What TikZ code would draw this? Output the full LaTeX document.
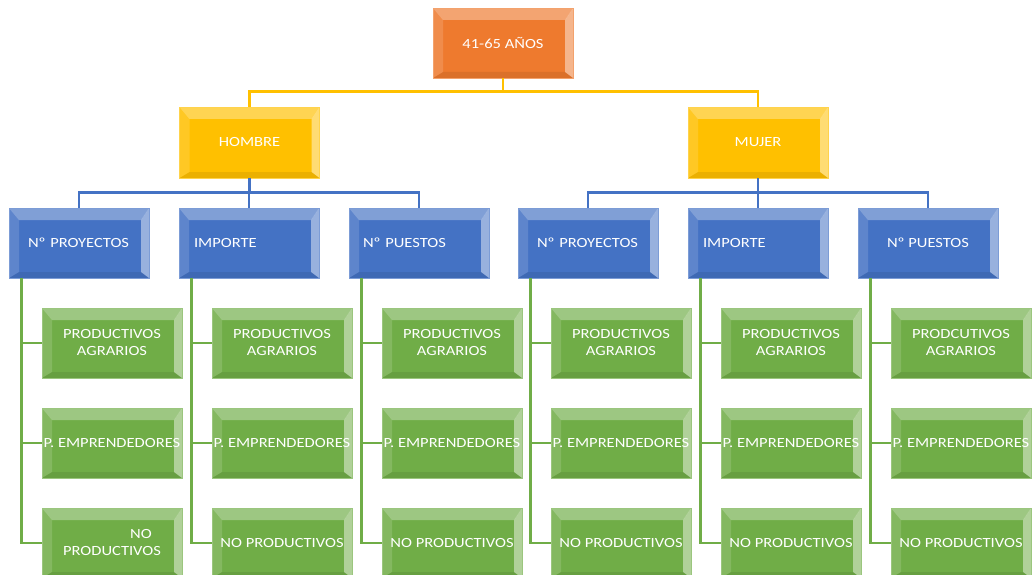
\documentclass[tikz,border=0pt]{standalone}
\usepackage{fontspec}
\setmainfont{Carlito}[FakeStretch=1.18]
\definecolor{orng}{HTML}{EE7A2E}
\definecolor{yel}{HTML}{FFC000}
\definecolor{blu}{HTML}{4472C4}
\definecolor{grn}{HTML}{70AD47}
\tikzset{
  bev/.style={path picture={
    \fill[white,opacity=.32] (path picture bounding box.north west) -- (path picture bounding box.north east)
       -- ([xshift=-8pt,yshift=-12pt]path picture bounding box.north east)
       -- ([xshift=10pt,yshift=-12pt]path picture bounding box.north west) -- cycle;
    \fill[white,opacity=.14] (path picture bounding box.north west) -- ([xshift=10pt,yshift=-12pt]path picture bounding box.north west)
       -- ([xshift=10pt,yshift=6pt]path picture bounding box.south west) -- (path picture bounding box.south west) -- cycle;
    \fill[white,opacity=.45] (path picture bounding box.north east) -- ([xshift=-8pt,yshift=-12pt]path picture bounding box.north east)
       -- ([xshift=-8pt,yshift=6pt]path picture bounding box.south east) -- (path picture bounding box.south east) -- cycle;
    \fill[black,opacity=.08] (path picture bounding box.south west) -- ([xshift=10pt,yshift=6pt]path picture bounding box.south west)
       -- ([xshift=-8pt,yshift=6pt]path picture bounding box.south east) -- (path picture bounding box.south east) -- cycle;
  }},
  box/.style={minimum width=140pt, minimum height=70pt, inner sep=0pt, text=white,
    font=\fontsize{14}{17}\selectfont, align=center, fill=#1, draw=#1!70!white, line width=.5pt, bev},
  conn/.style={draw=#1, line width=2.6pt},
}
\begin{document}
\begin{tikzpicture}[x=1pt,y=-1pt]
\useasboundingbox (0,0) rectangle (1036,575);
\clip (0,0) rectangle (1036,575);
\node[box=orng] (top) at (503,43) {41-65 AÑOS};
\node[box=yel, minimum height=71pt] (h) at (249.5,142.5) {HOMBRE};
\node[box=yel, minimum height=71pt] (m) at (758,142.5) {MUJER};
% blue level
\node[box=blu, align=left, inner xsep=19pt, text width=102pt] (b1) at (79,243) {\mbox{Nº PROYECTOS}};
\node[box=blu, align=left, inner xsep=15pt, text width=110pt] (b2) at (249,243) {IMPORTE};
\node[box=blu, align=left, inner xsep=14pt, text width=112pt] (b3) at (419,243) {\mbox{Nº PUESTOS}};
\node[box=blu, align=left, inner xsep=19pt, text width=102pt] (b4) at (588,243) {\mbox{Nº PROYECTOS}};
\node[box=blu, align=left, inner xsep=15pt, text width=110pt] (b5) at (758,243) {IMPORTE};
\node[box=blu] (b6) at (928,243) {Nº PUESTOS};
% green level
\node[box=grn] (g11) at (112,343) {PRODUCTIVOS\\AGRARIOS};
\node[box=grn] (g12) at (112,443) {P. EMPRENDEDORES};
\node[box=grn] (g13) at (112,543) {\hspace*{58pt}NO\\PRODUCTIVOS};
\node[box=grn] (g21) at (282,343) {PRODUCTIVOS\\AGRARIOS};
\node[box=grn] (g22) at (282,443) {P. EMPRENDEDORES};
\node[box=grn] (g23) at (282,543) {NO PRODUCTIVOS};
\node[box=grn] (g31) at (452,343) {PRODUCTIVOS\\AGRARIOS};
\node[box=grn] (g32) at (452,443) {P. EMPRENDEDORES};
\node[box=grn] (g33) at (452,543) {NO PRODUCTIVOS};
\node[box=grn] (g41) at (621,343) {PRODUCTIVOS\\AGRARIOS};
\node[box=grn] (g42) at (621,443) {P. EMPRENDEDORES};
\node[box=grn] (g43) at (621,543) {NO PRODUCTIVOS};
\node[box=grn] (g51) at (791,343) {PRODUCTIVOS\\AGRARIOS};
\node[box=grn] (g52) at (791,443) {P. EMPRENDEDORES};
\node[box=grn] (g53) at (791,543) {NO PRODUCTIVOS};
\node[box=grn] (g61) at (961,343) {PRODCUTIVOS\\AGRARIOS};
\node[box=grn] (g62) at (961,443) {P. EMPRENDEDORES};
\node[box=grn] (g63) at (961,543) {NO PRODUCTIVOS};
% connectors
\draw[conn=yel] (top.south) -- ++(0,14);
\draw[conn=yel] (h.north) -- ++(0,-15) -| (m.north);
\draw[conn=blu] (h.south) -- ++(0,15);
\draw[conn=blu] (m.south) -- ++(0,15);
\draw[conn=blu] (b1.north) -- ++(0,-15) -| (b3.north);
\draw[conn=blu] (b2.north) -- ++(0,-15);
\draw[conn=blu] (b4.north) -- ++(0,-15) -| (b6.north);
\draw[conn=blu] (b5.north) -- ++(0,-15);
\foreach \i in {1,...,6}{
  \foreach \j in {1,2,3}{
    \draw[conn=grn] ([xshift=13pt]b\i.south west) |- (g\i\j.west);
  }
}
\end{tikzpicture}
\end{document}
